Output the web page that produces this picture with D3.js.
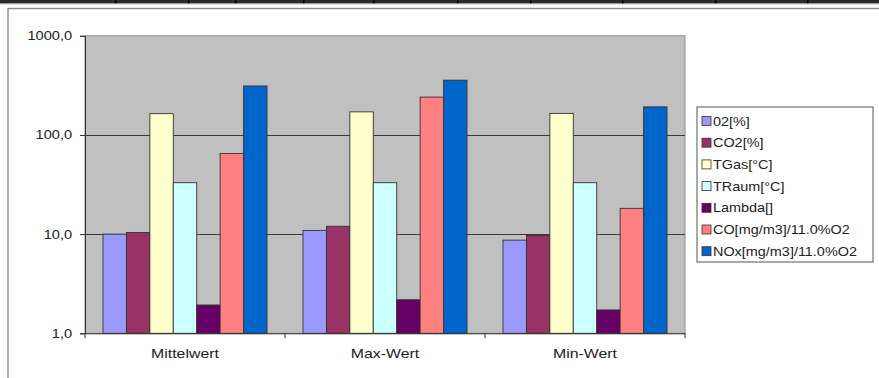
<!DOCTYPE html>
<html>
<head>
<meta charset="utf-8">
<script src="https://cdn.jsdelivr.net/npm/d3@7"></script>
<style>
  html, body { margin: 0; padding: 0; background: #fff; }
  svg { display: block; }
  text { font-family: "Liberation Sans", Arial, sans-serif; }
</style>
</head>
<body>
<svg id="chart" width="879" height="378"></svg>
<script>
// Measurement groups along the x axis
const categories = ["Mittelwert", "Max-Wert", "Min-Wert"];

// Series names as shown in the legend
const seriesNames = ["02[%]", "CO2[%]", "TGas[°C]", "TRaum[°C]", "Lambda[]", "CO[mg/m3]/11.0%O2", "NOx[mg/m3]/11.0%O2"];

// Values per series, one per category (Mittelwert, Max-Wert, Min-Wert)
const o2     = [10.0, 10.9, 8.7];
const co2    = [10.4, 12.0, 9.7];
const tGas   = [164, 171, 165];
const tRaum  = [33.0, 33.0, 33.0];
const lambda = [1.93, 2.18, 1.72];
const co     = [65, 241, 18.2];
const nox    = [312, 357, 192];

// Logarithmic axis ticks
const yTicks = [1, 10, 100, 1000];

const seriesColors = ["#9999ff", "#993366", "#ffffcc", "#ccffff", "#660066", "#ff8080", "#0066cc"];
const seriesValues = [o2, co2, tGas, tRaum, lambda, co, nox];

// The lettering is set slightly wide
const wide = 1.17;

const svg = d3.select("#chart");

// Remains of the table above the chart
const sep = [115, 188, 235, 303, 373, 457, 530, 622, 715, 807];
svg.append("rect").attr("x", 0).attr("y", 0).attr("width", 879).attr("height", 3.5).attr("fill", "#2a2a2a");
svg.selectAll(".sep").data(sep).join("rect")
  .attr("x", d => d).attr("y", 0).attr("width", 1.5).attr("height", 3.5).attr("fill", "#000");
svg.append("line").attr("x1", 0).attr("x2", 879).attr("y1", 4.2).attr("y2", 4.2)
  .attr("stroke", "#bbb").attr("stroke-width", 0.6);

// Outer chart frame
svg.append("rect").attr("x", 8).attr("y", 8.5).attr("width", 872).attr("height", 380)
  .attr("fill", "#fff").attr("stroke", "#8a8a8a").attr("stroke-width", 1.4);

const plot = { left: 85, right: 685, top: 35.8, bottom: 333.3 };

const x = d3.scaleBand().domain(categories).range([plot.left, plot.right]).padding(0);
const xs = d3.scaleBand().domain(seriesNames).range([18, x.bandwidth() - 18]).padding(0);
const y = d3.scaleLog().domain([1, 1000]).range([plot.bottom, plot.top]);

// Plot area background
svg.append("rect")
  .attr("x", plot.left).attr("y", plot.top)
  .attr("width", plot.right - plot.left).attr("height", plot.bottom - plot.top)
  .attr("fill", "#c0c0c0")
  .attr("stroke", "#8c8c8c").attr("stroke-width", 1);

// Horizontal gridlines
svg.selectAll(".grid").data(yTicks.slice(1, -1)).join("line")
  .attr("x1", plot.left).attr("x2", plot.right)
  .attr("y1", d => Math.round(y(d)) + 0.5).attr("y2", d => Math.round(y(d)) + 0.5)
  .attr("stroke", "#3a3a3a").attr("stroke-width", 1);

// Bars
const groups = svg.selectAll(".cat").data(categories).join("g")
  .attr("transform", d => `translate(${x(d)},0)`);
groups.each(function (cat, ci) {
  d3.select(this).selectAll("rect").data(seriesNames).join("rect")
    .attr("x", s => xs(s))
    .attr("y", (s, si) => y(seriesValues[si][ci]))
    .attr("width", xs.bandwidth())
    .attr("height", (s, si) => y(1) - y(seriesValues[si][ci]))
    .attr("fill", (s, si) => seriesColors[si])
    .attr("stroke", "#333").attr("stroke-width", 0.9);
});

// Y axis
const fmt = d => d3.format(".1f")(d).replace(".", ",");
const yAxis = d3.axisLeft(y).tickValues(yTicks).tickFormat(fmt).tickSize(5).tickPadding(6);
const gy = svg.append("g").attr("transform", `translate(${plot.left},0)`).call(yAxis);
gy.select(".domain").attr("stroke", "#333");
gy.selectAll(".tick line").attr("stroke", "#333");
gy.selectAll(".tick text").attr("font-size", 12.5).attr("fill", "#222")
  .attr("transform", `scale(${wide},1)`);

// X axis with ticks between categories
const xAxis = d3.axisBottom(x).tickSize(0).tickPadding(15);
const gx = svg.append("g").attr("transform", `translate(0,${plot.bottom})`).call(xAxis);
gx.select(".domain").attr("stroke", "#333");
gx.selectAll(".tick text").attr("font-size", 13).attr("fill", "#222")
  .attr("transform", `scale(${wide + 0.05},1)`);
const bounds = categories.map(c => x(c)).concat([plot.right]);
gx.selectAll(".bnd").data(bounds).join("line")
  .attr("x1", d => d).attr("x2", d => d).attr("y1", 0).attr("y2", 5)
  .attr("stroke", "#333");

// Legend
const lg = svg.append("g").attr("transform", "translate(697,107)");
lg.append("rect").attr("width", 176).attr("height", 155)
  .attr("fill", "#fff").attr("stroke", "#555").attr("stroke-width", 1);
const items = lg.selectAll(".item").data(seriesNames).join("g")
  .attr("transform", (d, i) => `translate(5,${14 + i * 21.7})`);
items.append("rect").attr("x", 0).attr("y", -4.5).attr("width", 9).attr("height", 9)
  .attr("fill", (d, i) => seriesColors[i]).attr("stroke", "#333").attr("stroke-width", 0.8);
items.append("text").attr("x", 11 / 1.11).attr("y", 4.5).attr("font-size", 13).attr("fill", "#222")
  .attr("transform", "scale(1.11,1)")
  .text(d => d);
</script>
</body>
</html>
